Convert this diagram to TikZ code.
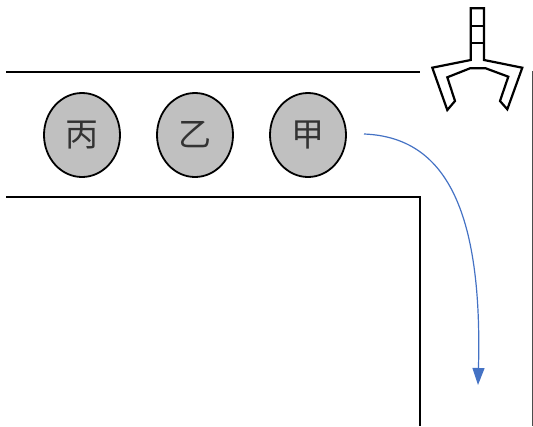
\documentclass[tikz,border=0pt]{standalone}
\usepackage{fontspec}
\newfontfamily\cjk{Noto Sans CJK TC}
\usetikzlibrary{arrows.meta,shapes.geometric}
\definecolor{ballgray}{RGB}{192,192,192}
\definecolor{arrowblue}{RGB}{68,114,196}
\tikzset{
  ball/.style={ellipse,draw=black,line width=1.8pt,fill=ballgray,minimum width=76pt,minimum height=84pt,inner sep=0pt,font=\cjk\fontsize{33}{33}\selectfont,text=black!80},
  wall/.style={draw=black,line width=2.3pt},
  claw/.style={draw=black,line width=2.2pt,line join=miter},
  thinwall/.style={draw=black!70,line width=0.9pt},
  path arrow/.style={draw=arrowblue,line width=1.2pt,-{Triangle[length=17pt,width=12pt,fill=arrowblue]}}
}
\begin{document}
\begin{tikzpicture}[x=1pt,y=-1pt]
\useasboundingbox (0,0) rectangle (533,426);
\node[ball] (bing) at (82,135) {丙};
\node[ball] (yi) at (195,135) {乙};
\node[ball] (jia) at (308,135) {甲};
\coordinate (topL) at (6,72);
\coordinate (topR) at (420,72);
\coordinate (lowL) at (6,197);
\coordinate (lowC) at (420,197);
\coordinate (lowB) at (420,426);
\coordinate (rightT) at (532.5,71);
\coordinate (rightB) at (532.5,426);
\coordinate (arrowS) at (364,134);
\coordinate (arrowE) at (478,385);
\draw[wall] (topL) -- (topR);
\draw[wall] (lowL) -- (lowC) -- (lowB);
\draw[thinwall] (rightT) -- (rightB);
\draw[path arrow] (arrowS) .. controls (440,137) and (483,200) .. (arrowE);
\draw[claw] (470.7,60) -- (470.7,8.3) -- (484,8.3) -- (484,60) -- (522.3,67.7) -- (507.3,109.3) -- (500,101) -- (508.3,76.7) -- (485.7,68.3) -- (470,68.3) -- (447.3,77.3) -- (455,101) -- (447.3,110) -- (432.3,67.7) -- cycle;
\draw[claw] (470.7,25.7) -- (484,25.7);
\draw[claw] (470.7,42.7) -- (484,42.7);
\end{tikzpicture}
\end{document}
